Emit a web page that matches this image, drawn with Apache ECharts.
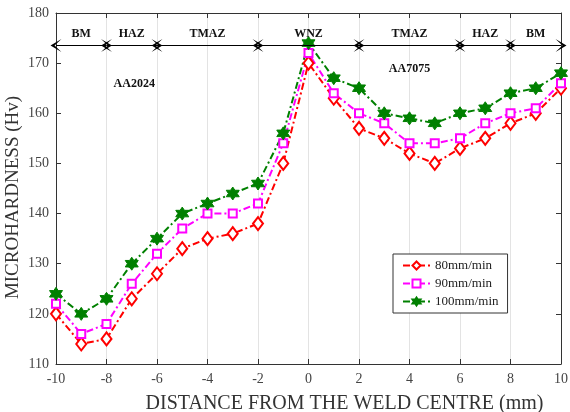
<!DOCTYPE html>
<html>
<head>
<meta charset="utf-8">
<script src="https://cdn.jsdelivr.net/npm/echarts@6/dist/echarts.min.js"></script>
<style>
  html, body { margin: 0; padding: 0; background: #fff; }
  #main { width: 570px; height: 412px; }
</style>
</head>
<body>
<div id="main"></div>
<script>
// distance from weld centre (mm)
var xs = [-10, -9, -8, -7, -6, -5, -4, -3, -2, -1, 0, 1, 2, 3, 4, 5, 6, 7, 8, 9, 10];
// microhardness (Hv) for each traverse speed
var hv80 = [120, 114, 115, 123, 128, 133, 135, 136, 138, 150, 170, 163, 157, 155, 152, 150, 153, 155, 158, 160, 165];
var hv90 = [122, 116, 118, 126, 132, 137, 140, 140, 142, 154, 172, 164, 160, 158, 154, 154, 155, 158, 160, 161, 166];
var hv100 = [124, 120, 123, 130, 135, 140, 142, 144, 146, 156, 174, 167, 165, 160, 159, 158, 160, 161, 164, 165, 168];
// weld zones along the top
var zoneNames = ['BM', 'HAZ', 'TMAZ', 'WNZ', 'TMAZ', 'HAZ', 'BM'];
var zoneEdges = [-10, -8, -6, -2, 2, 6, 8, 10];
var zoneLevel = 173.5;

var serif = 'Liberation Serif';
var hexagram = 'path://M0,-10 L2.9,-5 L8.66,-5 L5.8,0 L8.66,5 L2.9,5 L0,10 L-2.9,5 L-8.66,5 L-5.8,0 L-8.66,-5 L-2.9,-5 Z';
var arrowHead = 'path://M0,0 L-7,11 L0,4 L7,11 Z';

function pairs(ys) {
  return xs.map(function (x, i) { return [x, ys[i]]; });
}

var zoneLines = zoneNames.map(function (name, i) {
  return [
    { coord: [zoneEdges[i], zoneLevel], name: name },
    { coord: [zoneEdges[i + 1], zoneLevel] }
  ];
});

var chart = echarts.init(document.getElementById('main'));
var option = {
  animation: false,
  textStyle: { fontFamily: serif },
  grid: { left: 56, right: 9, top: 13, bottom: 48, containLabel: false, outerBoundsMode: 'none' },
  legend: {
    orient: 'vertical',
    left: 393,
    top: 254,
    padding: [5, 9, 5, 9],
    itemGap: 5,
    itemWidth: 27,
    itemHeight: 10,
    borderColor: '#333',
    borderWidth: 1,
    backgroundColor: '#fff',
    textStyle: { fontFamily: serif, fontSize: 13, color: '#222' },
    data: ['80mm/min', '90mm/min', '100mm/min']
  },
  xAxis: [{
    type: 'value', min: -10, max: 10, interval: 2,
    name: 'DISTANCE FROM THE WELD CENTRE (mm)',
    nameLocation: 'middle', nameGap: 30,
    nameTextStyle: { fontFamily: serif, fontSize: 20, color: '#333', padding: [0, 0, 0, 72] },
    axisLine: { onZero: false, lineStyle: { color: '#333' } },
    axisTick: { inside: true, length: 5, lineStyle: { color: '#333' } },
    axisLabel: { fontFamily: serif, fontSize: 14, color: '#444', margin: 8 },
    splitLine: { show: true, lineStyle: { color: '#e3e3e3' } }
  }, {
    type: 'value', min: -10, max: 10, interval: 2, position: 'top',
    axisLine: { onZero: false, lineStyle: { color: '#333' } },
    axisTick: { inside: true, length: 5, lineStyle: { color: '#333' } },
    axisLabel: { show: false }, splitLine: { show: false }
  }],
  yAxis: [{
    type: 'value', min: 110, max: 180, interval: 10,
    name: 'MICROHARDNESS (Hv)',
    nameLocation: 'middle', nameGap: 33, nameMoveOverlap: false,
    nameTextStyle: { fontFamily: serif, fontSize: 19, color: '#333', padding: [0, 18, 0, 0] },
    axisLine: { show: true, onZero: false, lineStyle: { color: '#333' } },
    axisTick: { show: true, inside: true, length: 5, lineStyle: { color: '#333' } },
    axisLabel: { fontFamily: serif, fontSize: 14, color: '#444', margin: 7 },
    splitLine: { show: false }
  }, {
    type: 'value', min: 110, max: 180, interval: 10, position: 'right',
    axisLine: { show: true, onZero: false, lineStyle: { color: '#333' } },
    axisTick: { show: true, inside: true, length: 5, lineStyle: { color: '#333' } },
    axisLabel: { show: false }, splitLine: { show: false }
  }],
  series: [{
    name: '80mm/min', type: 'line', data: pairs(hv80),
    symbol: 'diamond', symbolSize: [10, 13],
    itemStyle: { color: '#fff', borderColor: '#ff0000', borderWidth: 2 },
    lineStyle: { color: '#ff0000', width: 2, type: [7, 3, 2, 3] },
    z: 3,
    markLine: {
      silent: true,
      symbol: [arrowHead, arrowHead],
      symbolSize: [13, 11],
      lineStyle: { color: '#000', width: 1, type: 'solid' },
      label: {
        show: true, position: 'middle', distance: 6,
        formatter: '{b}', fontFamily: serif, fontWeight: 'bold', fontSize: 12, color: '#111'
      },
      data: zoneLines
    },
    markPoint: {
      silent: true, symbol: 'circle', symbolSize: 0,
      label: { show: true, formatter: '{b}', fontFamily: serif, fontWeight: 'bold', fontSize: 12, color: '#111' },
      data: [
        { name: 'AA2024', coord: [-6.9, 165.8] },
        { name: 'AA7075', coord: [4.0, 168.8] }
      ]
    }
  }, {
    name: '90mm/min', type: 'line', data: pairs(hv90),
    symbol: 'rect', symbolSize: 8,
    itemStyle: { color: '#fff', borderColor: '#ff00ff', borderWidth: 2 },
    lineStyle: { color: '#ff00ff', width: 2, type: [7, 3, 2, 3] },
    z: 3
  }, {
    name: '100mm/min', type: 'line', data: pairs(hv100),
    symbol: hexagram, symbolSize: 13,
    itemStyle: { color: '#008000', borderColor: '#008000', borderWidth: 1 },
    lineStyle: { color: '#008000', width: 2, type: [7, 3, 2, 3] },
    z: 3
  }]
};
chart.setOption(option);
</script>
</body>
</html>
